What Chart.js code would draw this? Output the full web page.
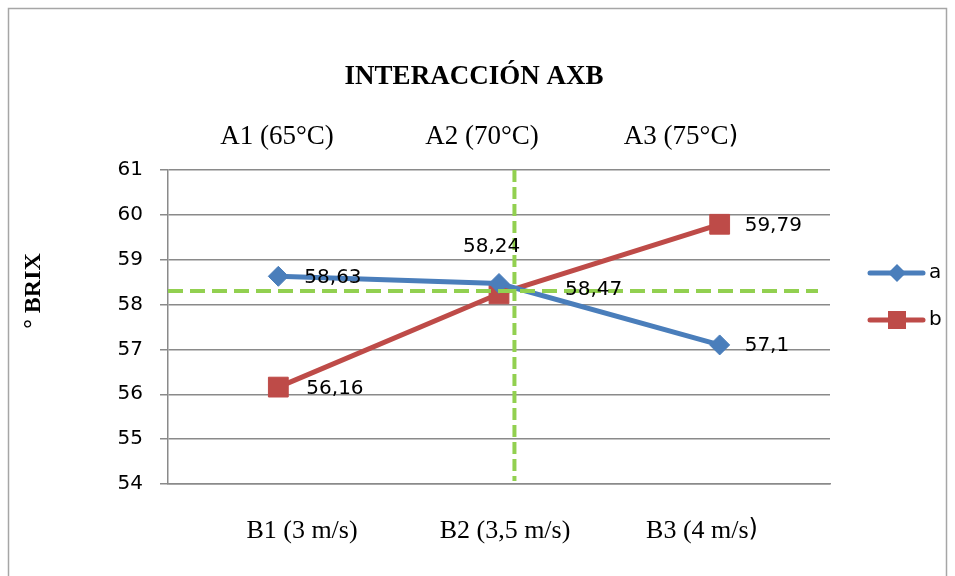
<!DOCTYPE html>
<html>
<head>
<meta charset="utf-8">
<script src="https://cdn.jsdelivr.net/npm/chart.js@4.4.0/dist/chart.umd.min.js"></script>
<style>
  html, body { margin: 0; padding: 0; background: #ffffff; }
  #wrap { width: 955px; height: 576px; position: relative; }
</style>
</head>
<body>
<div id="wrap"><canvas id="c" width="955" height="576"></canvas></div>
<script>
// Speed levels (x) and temperature levels (top captions)
const categories = ['B1 (3 m/s)', 'B2 (3,5 m/s)', 'B3 (4 m/s)'];
const tempLabels = ['A1 (65°C)', 'A2 (70°C)', 'A3 (75°C)'];

// Mean °Brix per level
const seriesA = [58.63, 58.47, 57.1];
const seriesB = [56.16, 58.24, 59.79];

// Value axis
const yMin = 54;
const yMax = 61;

// Green dashed reference lines (value on y, category index on x)
const refY = 58.3;
const refX = 1.07;

// Label offsets from each point (px)
const labelOffsetsA = [[26, 1], [66, 6], [25, 1]];
const labelOffsetsB = [[28, 2], [-36, -47], [25, 2]];

const BLUE = '#4a7ebb';
const RED = '#be4b48';
const GREEN = '#92d050';
const GRID = '#8a8a8a';
const SANS = '"DejaVu Sans", sans-serif';
const SERIF = '"Liberation Serif", "Times New Roman", serif';

const fmt = v => String(v).replace('.', ',');

// centred caption; optionally the closing parenthesis is set in a larger sans face
function captionText(ctx, text, cx, y, size, bigParen) {
  ctx.textAlign = 'left';
  ctx.font = size + 'px ' + SERIF;
  if (!bigParen) {
    const w = ctx.measureText(text).width;
    ctx.fillText(text, cx - w / 2, y);
    return;
  }
  const last = text.slice(-1);
  const body = text.slice(0, -1);
  const wb = ctx.measureText(body).width;
  ctx.font = (size - 2) + 'px ' + SANS;
  const wl = ctx.measureText(last).width;
  const x0 = cx - (wb + wl) / 2;
  ctx.font = size + 'px ' + SERIF;
  ctx.fillText(body, x0, y);
  ctx.font = (size - 2) + 'px ' + SANS;
  ctx.fillText(last, x0 + wb, y - 1);
}

const decor = {
  id: 'decor',
  beforeDraw(chart) {
    const ctx = chart.ctx;
    ctx.save();
    ctx.fillStyle = '#ffffff';
    ctx.fillRect(0, 0, chart.width, chart.height);
    ctx.strokeStyle = '#a6a6a6';
    ctx.lineWidth = 1.5;
    ctx.strokeRect(8.5, 8.5, 938, 620);
    ctx.restore();
  },
  afterDatasetsDraw(chart) {
    const ctx = chart.ctx;
    const xs = chart.scales.x, ys = chart.scales.y;
    const area = chart.chartArea;
    ctx.save();
    // reference lines
    ctx.strokeStyle = GREEN;
    ctx.lineWidth = 4;
    ctx.setLineDash([15, 7]);
    const yr = ys.getPixelForValue(refY);
    ctx.beginPath();
    ctx.moveTo(area.left, yr);
    ctx.lineTo(area.right - 12, yr);
    ctx.stroke();
    ctx.setLineDash([12, 5]);
    const xr = xs.getPixelForValue(refX);
    ctx.beginPath();
    ctx.moveTo(xr, area.top);
    ctx.lineTo(xr, area.bottom - 3);
    ctx.stroke();
    ctx.setLineDash([]);

    // value labels
    ctx.fillStyle = '#000000';
    ctx.font = '20px ' + SANS;
    ctx.textAlign = 'left';
    ctx.textBaseline = 'middle';
    [[seriesA, labelOffsetsA, 0], [seriesB, labelOffsetsB, 1]].forEach(([vals, offs, di]) => {
      const meta = chart.getDatasetMeta(di);
      vals.forEach((v, i) => {
        const p = meta.data[i];
        ctx.fillText(fmt(v), p.x + offs[i][0], p.y + offs[i][1]);
      });
    });

    // title
    ctx.textAlign = 'center';
    ctx.font = 'bold 27px ' + SERIF;
    ctx.fillText('INTERACCIÓN AXB', 474, 77);

    // temperature captions
    const topX = [277, 482, 681];
    tempLabels.forEach((t, i) => captionText(ctx, t, topX[i], 137, 27, i === tempLabels.length - 1));

    // speed captions
    const botX = [302, 505, 702];
    categories.forEach((t, i) => captionText(ctx, t, botX[i], 531, 26, i === categories.length - 1));

    // axis title
    ctx.save();
    ctx.translate(34, 291);
    ctx.rotate(-Math.PI / 2);
    ctx.textAlign = 'center';
    ctx.font = 'bold 24px ' + SERIF;
    ctx.fillText('° BRIX', 0, 0);
    ctx.restore();

    // legend
    const legendItems = [[chart.data.datasets[0], 273], [chart.data.datasets[1], 320]];
    legendItems.forEach(([ds, y]) => {
      ctx.strokeStyle = ds.borderColor;
      ctx.lineWidth = 5;
      ctx.lineCap = 'round';
      ctx.beginPath();
      ctx.moveTo(870, y);
      ctx.lineTo(923, y);
      ctx.stroke();
      ctx.fillStyle = ds.pointBackgroundColor;
      if (ds.pointStyle === 'rectRot') {
        ctx.beginPath();
        ctx.moveTo(897 - 9, y);
        ctx.lineTo(897, y - 9);
        ctx.lineTo(897 + 9, y);
        ctx.lineTo(897, y + 9);
        ctx.closePath();
        ctx.fill();
      } else {
        ctx.fillRect(897 - 9, y - 9, 18, 18);
      }
      ctx.fillStyle = '#000000';
      ctx.textAlign = 'left';
      ctx.font = '20px ' + SANS;
      ctx.fillText(ds.label, 929, y);
    });
    ctx.restore();
  }
};

new Chart(document.getElementById('c'), {
  type: 'line',
  data: {
    labels: categories,
    datasets: [
      {
        label: 'a',
        data: seriesA,
        borderColor: BLUE,
        backgroundColor: BLUE,
        pointBackgroundColor: BLUE,
        pointBorderColor: BLUE,
        borderWidth: 5,
        pointStyle: 'rectRot',
        pointRadius: 10,
        pointBorderWidth: 1,
        tension: 0
      },
      {
        label: 'b',
        data: seriesB,
        borderColor: RED,
        backgroundColor: RED,
        pointBackgroundColor: RED,
        pointBorderColor: RED,
        borderWidth: 5,
        pointStyle: 'rect',
        pointRadius: 14,
        pointBorderWidth: 1,
        tension: 0
      }
    ]
  },
  options: {
    responsive: false,
    animation: false,
    devicePixelRatio: 1,
    layout: { padding: { left: 0, right: 125, top: 170, bottom: 92 } },
    plugins: {
      legend: { display: false },
      title: { display: false },
      tooltip: { enabled: false }
    },
    scales: {
      x: {
        offset: true,
        grid: { display: false },
        border: { display: true, color: GRID, width: 1.5 },
        ticks: { display: false },
        afterFit(s) { s.height = 0; }
      },
      y: {
        min: yMin,
        max: yMax,
        ticks: {
          stepSize: 1,
          color: '#000000',
          font: { family: SANS, size: 20 },
          padding: 17
        },
        grid: { color: GRID, lineWidth: 1.5, tickLength: 8, drawTicks: true },
        border: { display: true, color: GRID, width: 1.5 },
        afterFit(s) { s.width = 168; }
      }
    }
  },
  plugins: [decor]
});
</script>
</body>
</html>
